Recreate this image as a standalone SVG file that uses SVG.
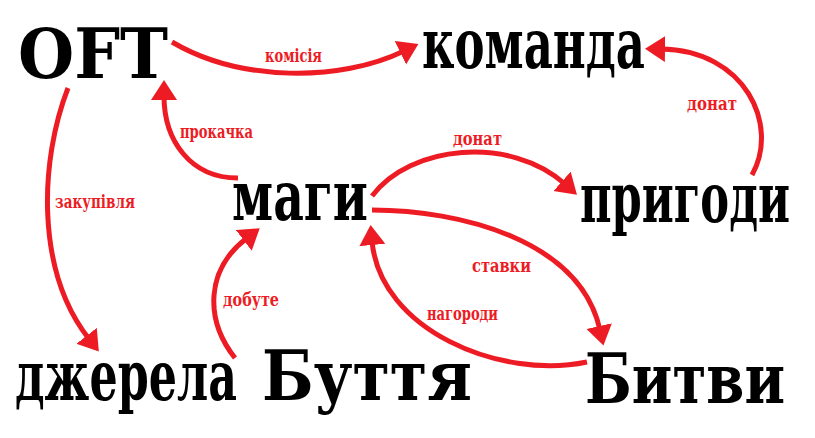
<svg xmlns="http://www.w3.org/2000/svg" width="815" height="438" viewBox="0 0 815 438">
<style>
.node text{font-family:"DejaVu Serif","Liberation Serif",serif;font-weight:bold;font-size:70px;fill:#000}
.lbl{font-family:"DejaVu Serif","Liberation Serif",serif;font-weight:bold;font-size:18px;fill:#ed1c24}
.edge{fill:none;stroke:#ed1c24;stroke-width:5}
</style>
<defs>
<marker id="ah" markerUnits="userSpaceOnUse" markerWidth="22" markerHeight="28" refX="4" refY="13" orient="auto">
<path d="M0,0 L20,13 L0,26 z" fill="#ed1c24"/>
</marker>
</defs>
<rect width="815" height="438" fill="#fff"/>
<g id="connectors">
<path class="edge" marker-end="url(#ah)" d="M172,42 C240,82 340,82 404,51"/>
<path class="edge" marker-end="url(#ah)" d="M752,175 C780,125 745,50 661,49"/>
<path class="edge" marker-end="url(#ah)" d="M238,178 C190,178 164,140 164,96"/>
<path class="edge" marker-end="url(#ah)" d="M372,196 C410,145 510,135 565,184"/>
<path class="edge" marker-end="url(#ah)" d="M68,88 C40,160 35,270 89,339"/>
<path class="edge" marker-end="url(#ah)" d="M235,358 C205,320 205,270 247,238"/>
<path class="edge" marker-end="url(#ah)" d="M372,210 C460,210 580,240 600,330"/>
<path class="edge" marker-end="url(#ah)" d="M587,362 C500,380 380,330 372,241"/>
<text class="lbl" x="265" y="62" textLength="57" lengthAdjust="spacingAndGlyphs">комісія</text>
<text class="lbl" x="687" y="110" textLength="50" lengthAdjust="spacingAndGlyphs">донат</text>
<text class="lbl" x="453" y="145" textLength="49" lengthAdjust="spacingAndGlyphs">донат</text>
<text class="lbl" x="180" y="138" textLength="73" lengthAdjust="spacingAndGlyphs">прокачка</text>
<text class="lbl" x="55" y="208" textLength="80" lengthAdjust="spacingAndGlyphs">закупівля</text>
<text class="lbl" x="223" y="306" textLength="56" lengthAdjust="spacingAndGlyphs">добуте</text>
<text class="lbl" x="472" y="272" textLength="59" lengthAdjust="spacingAndGlyphs">ставки</text>
<text class="lbl" x="427" y="320" textLength="71" lengthAdjust="spacingAndGlyphs">нагороди</text>
</g>
<g id="oft" class="node"><text x="18" y="78" textLength="150" lengthAdjust="spacingAndGlyphs">OFT</text></g>
<g id="komanda" class="node"><text x="422" y="68" textLength="223" lengthAdjust="spacingAndGlyphs">команда</text></g>
<g id="magy" class="node"><text x="232" y="220" textLength="136" lengthAdjust="spacingAndGlyphs">маги</text></g>
<g id="pryhody" class="node"><text x="580" y="222" textLength="210" lengthAdjust="spacingAndGlyphs">пригоди</text></g>
<g id="dzherela" class="node"><text x="15" y="400" textLength="222" lengthAdjust="spacingAndGlyphs">джерела</text></g>
<g id="buttia" class="node"><text x="262" y="400" textLength="210" lengthAdjust="spacingAndGlyphs">Буття</text></g>
<g id="bytvy" class="node"><text x="585" y="403" textLength="200" lengthAdjust="spacingAndGlyphs">Битви</text></g>
</svg>
